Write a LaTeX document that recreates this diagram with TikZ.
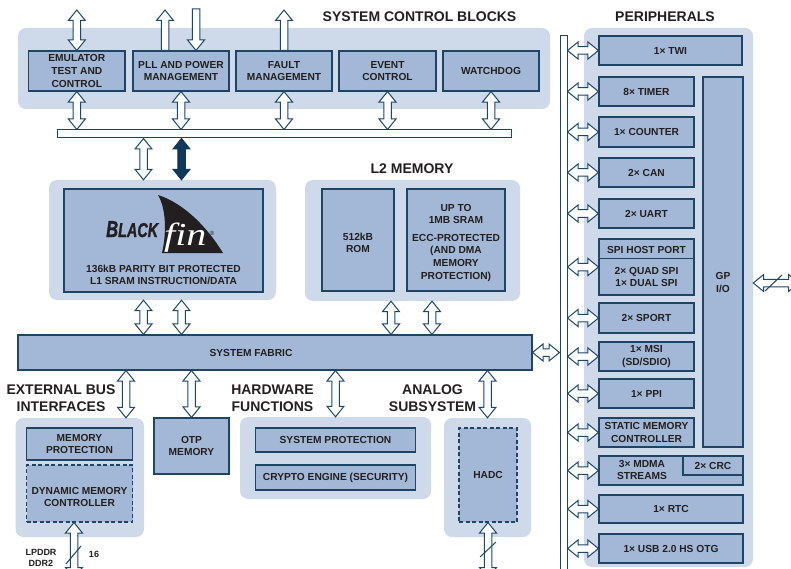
\documentclass[tikz,border=0pt]{standalone}
\usepackage{fontspec}
\setmainfont{Liberation Sans}
\newfontfamily\serifit{Liberation Serif}
\newfontfamily\blkfont[BoldItalicFeatures={FakeBold=1.5}]{Liberation Sans}
\usetikzlibrary{calc}
\definecolor{bgc}{RGB}{206,217,234}
\definecolor{boxc}{RGB}{163,184,214}
\definecolor{bordc}{RGB}{30,68,102}
\definecolor{arrc}{RGB}{28,70,106}
\definecolor{darkc}{RGB}{16,56,88}
\definecolor{txtc}{RGB}{35,31,32}
\tikzset{
 bgr/.style={fill=bgc, draw=none, rounded corners=8pt, inner sep=0pt},
 box/.style={draw=bordc, fill=boxc, line width=1.1pt, inner sep=0pt, align=center, text=txtc, font=\bfseries\fontsize{10.2}{12.6}\selectfont},
 dbox/.style={box, dash pattern=on 4pt off 2.5pt},
 head/.style={text=txtc, align=center, inner sep=0pt, font=\bfseries\fontsize{14}{17}\selectfont},
 txt/.style={text=txtc, align=center, inner sep=0pt, font=\bfseries\fontsize{10.2}{12.6}\selectfont},
 small/.style={text=txtc, align=center, inner sep=0pt, font=\bfseries\fontsize{9}{11}\selectfont},
 arr/.style={draw=arrc, fill=white, line width=1pt, line join=miter},
 darr/.style={draw=darkc, fill=darkc, line width=1pt, line join=miter},
 bar/.style={draw=bordc, fill=white, line width=1pt, inner sep=0pt},
 slash/.style={draw=arrc, line width=1pt},
}
% box from corners
\newcommand\bx[7][box]{\node[#1, minimum width={(#5-#3)*1pt}, minimum height={(#6-#4)*1pt}] (#2) at ({(#3+#5)/2},{(#4+#6)/2}) {#7};}
% vertical double arrow, #2 top tip, #3 bottom tip
\newcommand\arrVD[3][arr]{%
 \path (#2) coordinate (aA) (#3) coordinate (aB);
 \draw[#1] (aA) -- ++(8.5,10.5) -- ++(-4.75,0) -- ($(aB)+(3.75,-10.5)$) -- ++(4.75,0) -- (aB) -- ++(-8.5,-10.5) -- ++(4.75,0) -- ($(aA)+(-3.75,10.5)$) -- ++(-4.75,0) -- cycle;}
% vertical arrow, tip at top #2, flat at bottom #3
\newcommand\arrVU[3][arr]{%
 \path (#2) coordinate (aA) (#3) coordinate (aB);
 \draw[#1] (aA) -- ++(8.5,10.5) -- ++(-4.75,0) -- ($(aB)+(3.75,0)$) -- ($(aB)+(-3.75,0)$) -- ($(aA)+(-3.75,10.5)$) -- ++(-4.75,0) -- cycle;}
% vertical arrow, flat at top #2, tip at bottom #3
\newcommand\arrVN[3][arr]{%
 \path (#2) coordinate (aA) (#3) coordinate (aB);
 \draw[#1] ($(aA)+(-3.75,0)$) -- ($(aA)+(3.75,0)$) -- ($(aB)+(3.75,-10.5)$) -- ++(4.75,0) -- (aB) -- ++(-8.5,-10.5) -- ++(4.75,0) -- cycle;}
% horizontal double arrow, #2 left tip, #3 right tip
\newcommand\arrH[3][arr]{%
 \path (#2) coordinate (aA) (#3) coordinate (aB);
 \draw[#1] (aA) -- ++(10.5,-8.5) -- ++(0,4.75) -- ($(aB)+(-10.5,-3.75)$) -- ++(0,-4.75) -- (aB) -- ++(-10.5,8.5) -- ++(0,-4.75) -- ($(aA)+(10.5,3.75)$) -- ++(0,4.75) -- cycle;}
\begin{document}
\begin{tikzpicture}[x=1pt,y=-1pt]
\useasboundingbox (0,0) rectangle (791,569);
% backgrounds
\bx[bgr]{scbg}{18}{28}{550}{109}{}
\bx[bgr]{bfbg}{49}{180}{276}{300}{}
\bx[bgr]{l2bg}{305}{180}{520}{301}{}
\bx[bgr]{extbg}{15.5}{418}{144}{537}{}
\bx[bgr]{hwbg}{240}{417}{431}{499}{}
\bx[bgr]{anbg}{444}{418}{531}{537}{}
\bx[bgr]{perbg}{584}{28}{753}{567}{}
% headings
\node[head] (h1) at (419.5,17) {SYSTEM CONTROL BLOCKS};
\node[head] (h2) at (665,17) {PERIPHERALS};
\node[head] (h3) at (412,169) {L2 MEMORY};
\node[head] (h4) at (61,398.5) {EXTERNAL BUS\\INTERFACES};
\node[head] (h5) at (272.5,398.5) {HARDWARE\\FUNCTIONS};
\node[head] (h6) at (432.5,398.5) {ANALOG\\SUBSYSTEM};
% system control blocks
\bx{emu}{28.6}{51}{125}{91}{EMULATOR\\TEST AND\\CONTROL}
\bx{pll}{133}{51}{229}{91}{PLL AND POWER\\MANAGEMENT}
\bx{fault}{236}{51}{332}{91}{FAULT\\MANAGEMENT}
\bx{event}{339}{51}{436}{91}{EVENT\\CONTROL}
\bx{wdog}{443}{51}{539}{91}{WATCHDOG}
\bx[bar]{bus}{57}{130}{511}{138}{}
% blackfin core
\bx{core}{64}{189}{263}{292}{}
\path[fill=txtc] (158,195) .. controls (186,204) and (209,230) .. (223,253) -- (162,253) .. controls (166,236) and (167,210) .. cycle;
\node[anchor=base west, inner sep=0pt, text=txtc, font=\blkfont\bfseries\itshape\fontsize{23}{23}\selectfont] (blk) at (106,237) {\scalebox{0.72}[1]{B{\fontsize{20}{20}\selectfont LACK}}};
\node[anchor=base west, inner sep=0pt, text=white, font=\serifit\itshape\fontsize{32}{32}\selectfont] (fint) at (164,245) {\scalebox{1.25}[1]{fin}};
\node[inner sep=0pt, text=txtc, font=\fontsize{6}{6}\selectfont] (reg) at (212,233) {®};
\node[txt] (l1t) at (163.5,275) {136kB PARITY BIT PROTECTED\\L1 SRAM INSTRUCTION/DATA};
% L2 memory
\bx{rom}{322}{189}{394}{291}{}
\node[txt] (romt) at (358,243) {512kB\\ROM};
\bx{sram}{407}{189}{505}{291}{}
\node[txt] (sramt) at (456,242.5) {UP TO\\1MB SRAM\\[5pt]ECC-PROTECTED\\(AND DMA\\MEMORY\\PROTECTION)};
% system fabric
\bx{fabric}{18}{335}{532}{370}{}
\node[txt] (fabt) at (251,353) {SYSTEM FABRIC};
% external bus
\bx{memp}{26.5}{428}{132.5}{460}{MEMORY\\PROTECTION}
\bx[dbox]{dmc}{26.5}{465}{132.5}{522}{}
\node[txt] (dmct) at (79.5,497) {DYNAMIC MEMORY\\CONTROLLER};
\bx{otp}{154}{418}{229}{474}{OTP\\MEMORY}
\bx{sysp}{255.5}{428}{415.5}{452}{SYSTEM PROTECTION}
\bx{crypto}{255.5}{465}{415.5}{490}{CRYPTO ENGINE (SECURITY)}
\bx[dbox]{hadc}{459}{428}{517}{522}{HADC}
% peripherals
\bx[bar]{vbus}{560}{36}{567}{590}{}
\bx{twi}{599}{36}{742}{65}{1× TWI}
\bx{tmr}{599}{77}{694}{106}{8× TIMER}
\bx{cnt}{599}{117}{694}{147}{1× COUNTER}
\bx{can}{599}{158}{694}{187}{2× CAN}
\bx{uart}{599}{199}{694}{228}{2× UART}
\bx{spi}{599}{239}{694}{295}{}
\draw[draw=bordc, line width=1.1pt] ([yshift=-20pt]spi.north west) -- ([yshift=-20pt]spi.north east);
\node[txt] (spit1) at (646.5,249.5) {SPI HOST PORT};
\node[txt] (spit2) at (646.5,277) {2× QUAD SPI\\1× DUAL SPI};
\bx{sport}{599}{303}{694}{333}{2× SPORT}
\bx{msi}{599}{342}{694}{371}{1× MSI\\(SD/SDIO)}
\bx{ppi}{599}{379}{694}{408}{1× PPI}
\bx{smc}{599}{418}{694}{447}{STATIC MEMORY\\CONTROLLER}
\bx{mdma}{599}{456}{743}{485}{}
\bx{crc}{683}{456}{743}{475}{2× CRC}
\node[txt] (mdmat) at (642,470) {3× MDMA\\STREAMS};
\bx{rtc}{599}{495}{743}{523}{1× RTC}
\bx{usb}{599}{534}{743}{563}{1× USB 2.0 HS OTG}
\bx{gpio}{703}{77}{743}{447}{}
\node[txt] (gpiot) at (723,282.5) {GP\\I/O};
% arrows: system control
\coordinate (emuT) at (76.8,10);
\coordinate (pllO) at (165,10);
\coordinate (pllI) at (196,9);
\coordinate (fltT) at (284,10);
\arrVD{emuT}{emu.north -| emuT}
\arrVU{pllO}{pll.north -| pllO}
\arrVN{pllI}{pll.north -| pllI}
\arrVU{fltT}{fault.north -| fltT}
\foreach \n in {emu,pll,fault,event,wdog} {\arrVD{\n.south}{bus.north -| \n.south}}
% arrows: core
\coordinate (bxa) at (143.5,160);
\coordinate (bxb) at (181.5,160);
\arrVD{bus.south -| bxa}{bfbg.north -| bxa}
\arrVD[darr]{bus.south -| bxb}{bfbg.north -| bxb}
\arrVD{bfbg.south -| bxa}{fabric.north -| bxa}
\arrVD{bfbg.south -| bxb}{fabric.north -| bxb}
\coordinate (l2a) at (391,318);
\coordinate (l2b) at (432,318);
\arrVD{l2bg.south -| l2a}{fabric.north -| l2a}
\arrVD{l2bg.south -| l2b}{fabric.north -| l2b}
% arrows below fabric
\coordinate (fx1) at (126,390);
\arrVD{fabric.south -| fx1}{extbg.north -| fx1}
\arrVD{fabric.south -| otp.north}{otp.north}
\arrVD{fabric.south -| hwbg.north}{hwbg.north}
\arrVD{fabric.south -| anbg.north}{anbg.north}
% fabric to peripheral bus
\arrH{fabric.east}{vbus.west |- fabric.east}
% peripheral arrows
\foreach \n in {twi,tmr,cnt,can,uart,spi,sport,msi,ppi,smc,mdma,rtc,usb} {\arrH{vbus.east |- \n.west}{\n.west}}
% GP I/O external
\coordinate (gpR) at (799,283);
\arrH{perbg.east |- gpR}{gpR}
\draw[slash] (765,291) -- (782,275);
% bottom arrows
\coordinate (ddrE) at (74,578);
\arrVD{dmc.south -| ddrE}{ddrE}
\draw[slash] (66,564) -- (81,546);
\node[small] (ddrt) at (41,557.5) {LPDDR\\DDR2};
\node[small] (n16) at (94,554) {16};
\coordinate (hadcE) at (488,578);
\arrVD{hadc.south -| hadcE}{hadcE}
\draw[slash] (480,557) -- (496,542);
\end{tikzpicture}
\end{document}
